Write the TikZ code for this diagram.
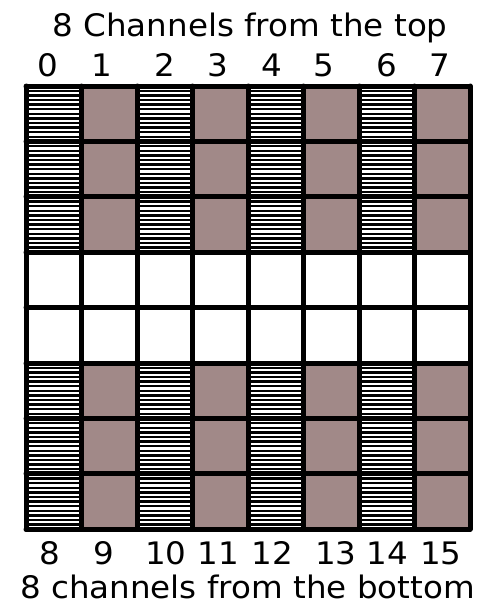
\documentclass[tikz,border=0pt]{standalone}
\usepackage{fontspec}
\usepackage{graphicx}
\setmainfont{DejaVu Sans}
\definecolor{cellbrown}{RGB}{161,137,136}
\begin{document}
\begin{tikzpicture}[x=1pt,y=-1pt,
  lbl/.style={font=\fontsize{31}{31}\selectfont, inner sep=0pt, anchor=base},
  gridline/.style={line width=5pt, line cap=round},
  stripe/.style={line width=2.4pt, black},
  browncell/.style={fill=cellbrown, draw=none}]
\useasboundingbox (0,0) rectangle (489,606);
% cells
\foreach \r in {0,1,2,5,6,7}{
  \foreach \c in {0,...,7}{
    \pgfmathsetmacro{\xl}{26+55.5*\c}
    \pgfmathsetmacro{\yt}{86+55.4*\r}
    \ifodd\c\relax
      \fill[browncell] (\xl,\yt) rectangle ({\xl+55.5},{\yt+55.4});
    \else
      \foreach \k in {0,...,10}{
        \draw[stripe] ({\xl+2.5},{\yt+27.7+(\k-5)*4.6}) -- ({\xl+53},{\yt+27.7+(\k-5)*4.6});
      }
    \fi
  }
}
% grid lines
\foreach \i in {0,...,8}{
  \draw[gridline] ({26+55.5*\i},86) -- ({26+55.5*\i},529.2);
  \draw[gridline] (26,{86+55.4*\i}) -- (470,{86+55.4*\i});
}
% labels
\node[lbl] (toptitle) at (250,36) {\scalebox{1.05}[1]{8 Channels from the top}};
\node[lbl] (bottitle) at (247.5,598.5) {\scalebox{1.05}[1]{8 channels from the bottom}};
\foreach \n/\x in {0/48,1/102,2/165,3/218,4/272,5/324,6/387,7/440}{
  \node[lbl] (top\n) at (\x,76) {\scalebox{1.05}[1]{\n}};
}
\foreach \n/\x in {8/50,9/103.5,10/166,11/218.5,12/272.5,13/336,14/387.5,15/441}{
  \node[lbl] (bot\n) at (\x,564) {\scalebox{1.05}[1]{\n}};
}
\end{tikzpicture}
\end{document}
